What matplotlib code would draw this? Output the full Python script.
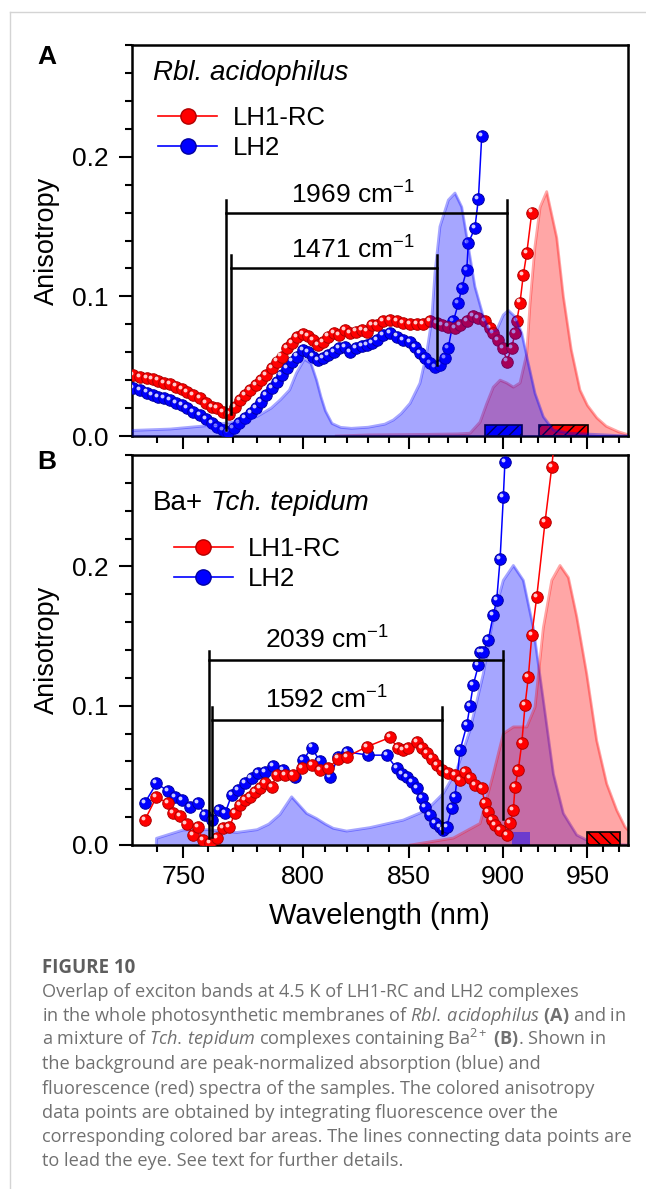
import numpy as np
import matplotlib
matplotlib.use("Agg")
import matplotlib.pyplot as plt
from matplotlib.ticker import MultipleLocator, FormatStrFormatter
from matplotlib.lines import Line2D
from matplotlib.transforms import ScaledTranslation

plt.rcParams['font.family'] = ['Liberation Sans', 'DejaVu Sans']
plt.rcParams['mathtext.fontset'] = 'custom'
plt.rcParams['mathtext.rm'] = 'Liberation Sans'
plt.rcParams['mathtext.it'] = 'Open Sans:italic'
plt.rcParams['mathtext.bf'] = 'Open Sans:bold'
plt.rcParams['mathtext.default'] = 'regular'
plt.rcParams['hatch.linewidth'] = 1.0

# ---------------- panel A : Rbl. acidophilus ----------------
a_red_wl = [731.0, 733.4, 736.0, 738.2, 740.3, 742.7, 744.8, 747.2, 749.4, 751.6,
            753.9, 756.6, 759.0, 761.3, 763.5, 766.0, 768.4, 770.8, 772.8, 774.9,
            777.0, 779.5, 781.6, 783.8, 786.2, 788.4, 790.5, 792.7, 794.9, 797.1,
            800.0, 802.3, 804.5, 806.8, 809.0, 811.3, 813.9, 816.4, 819.0, 821.3,
            824.2, 826.9, 829.3, 831.7, 834.1, 837.3, 840.5, 843.8, 847.1, 850.5,
            853.9, 857.2, 860.6, 864.1, 866.7, 870.1, 873.7, 876.4, 880.0, 883.5,
            886.3, 890.0, 892.7, 894.5, 897.3, 900.1, 902.0, 904.8, 906.7, 907.7,
            909.6, 911.5, 913.5, 916.4]
a_red = [0.0437, 0.0425, 0.0413, 0.0406, 0.0397, 0.0382, 0.0370, 0.0354, 0.0335, 0.0318,
         0.0294, 0.0270, 0.0234, 0.0210, 0.0198, 0.0174, 0.0158, 0.0210, 0.0258, 0.0294,
         0.0330, 0.0366, 0.0401, 0.0437, 0.0485, 0.0533, 0.0569, 0.0629, 0.0665, 0.0707,
         0.0731, 0.0717, 0.0688, 0.0652, 0.0676, 0.0712, 0.0736, 0.0724, 0.0760, 0.0736,
         0.0748, 0.0760, 0.0748, 0.0796, 0.0796, 0.0820, 0.0832, 0.0820, 0.0808, 0.0800,
         0.0800, 0.0800, 0.0820, 0.0808, 0.0796, 0.0784, 0.0772, 0.0796, 0.0820, 0.0856,
         0.0844, 0.0820, 0.0772, 0.0736, 0.0688, 0.0629, 0.0533, 0.0629, 0.0736, 0.0820,
         0.0956, 0.1154, 0.1310, 0.1600]

a_blue_wl = [731.0, 733.4, 736.0, 738.2, 740.3, 742.7, 744.8, 747.2, 749.4, 751.6,
             753.9, 756.6, 759.0, 761.3, 763.5, 766.0, 768.0, 770.2, 772.5, 774.9,
             777.3, 779.5, 781.6, 783.8, 786.2, 788.4, 790.5, 792.7, 794.9, 797.1,
             800.0, 802.3, 804.5, 806.8, 809.0, 811.3, 813.9, 816.4, 819.0, 821.3,
             824.2, 826.9, 829.3, 831.7, 834.1, 837.3, 840.5, 843.8, 847.1, 850.5,
             853.0, 855.5, 858.1, 860.6, 863.2, 865.8, 868.4, 870.1, 872.8, 875.5,
             877.3, 880.0, 880.8, 884.4, 886.3, 888.1]
a_blue = [0.0342, 0.0330, 0.0311, 0.0294, 0.0282, 0.0270, 0.0258, 0.0239, 0.0222, 0.0198,
          0.0174, 0.0151, 0.0120, 0.0091, 0.0067, 0.0043, 0.0031, 0.0055, 0.0091, 0.0127,
          0.0163, 0.0198, 0.0246, 0.0294, 0.0342, 0.0389, 0.0437, 0.0485, 0.0533, 0.0569,
          0.0617, 0.0604, 0.0569, 0.0545, 0.0557, 0.0581, 0.0604, 0.0629, 0.0636, 0.0604,
          0.0629, 0.0645, 0.0652, 0.0665, 0.0688, 0.0724, 0.0736, 0.0712, 0.0688, 0.0676,
          0.0640, 0.0593, 0.0557, 0.0521, 0.0497, 0.0509, 0.0557, 0.0629, 0.0820, 0.0950,
          0.1060, 0.1190, 0.1380, 0.1490, 0.1700, 0.2146]

a_abs_wl = [730.4, 745.0, 760.0, 770.0, 780.0, 786.0, 790.0, 794.0, 797.0, 800.5,
            803.5, 806.0, 808.0, 810.0, 813.0, 817.0, 822.0, 830.0, 838.0, 842.2,
            846.0, 850.5, 855.5, 858.9, 861.5, 863.2, 865.8, 870.2, 873.7, 877.3,
            880.8, 884.4, 889.0, 892.7, 896.4, 900.1, 902.9, 906.7, 910.6, 914.4,
            918.3, 923.2, 929.2, 939.3, 976.0]
a_abs = [0.004, 0.005, 0.0075, 0.010, 0.014, 0.020, 0.026, 0.033, 0.045, 0.055,
         0.052, 0.040, 0.028, 0.018, 0.009, 0.0062, 0.0055, 0.0063, 0.0085, 0.0115,
         0.016, 0.0234, 0.0378, 0.059, 0.083, 0.1166, 0.150, 0.169, 0.174, 0.164,
         0.136, 0.107, 0.0855, 0.0748, 0.076, 0.0867, 0.090, 0.0855, 0.0736, 0.052,
         0.0306, 0.0138, 0.0043, 0.002, 0.0]

a_fl_wl = [815.0, 830.0, 860.0, 875.0, 881.7, 887.2, 890.8, 894.5, 898.3, 902.0,
           905.8, 909.6, 913.5, 915.4, 918.3, 921.3, 925.2, 931.2, 935.2, 940.0,
           945.4, 950.0, 956.0, 962.0, 970.0, 976.0]
a_fl = [0.0, 0.0008, 0.0012, 0.0015, 0.002, 0.010, 0.023, 0.035, 0.040, 0.038,
        0.035, 0.038, 0.059, 0.095, 0.136, 0.164, 0.175, 0.142, 0.100, 0.062,
        0.033, 0.022, 0.013, 0.007, 0.003, 0.001]

a_bar_left = [890.0, 920.4]
a_bar_right = [910.6, 950.7]
a_bar_h = 0.008

# brackets: (left wl, right wl, top, bar level, left bottom, right bottom, label)
a_brackets = [(767.1, 902.4, 0.169, 0.160, 0.004, 0.065, '1969'),
              (769.0, 864.4, 0.1295, 0.120, 0.016, 0.051, '1471')]
a_labels_xy = [(822.8, 0.1728), (822.8, 0.133)]

# ---------------- panel B : Ba+ Tch. tepidum ----------------
b_blue_wl = [735.3, 739.7, 744.0, 746.8, 749.4, 752.6, 755.9, 758.6, 761.3, 764.3,
             766.7, 769.4, 772.1, 774.9, 777.7, 780.5, 783.3, 786.9, 791.2, 796.4,
             800.0, 803.8, 807.5, 812.1, 815.9, 819.8, 830.0, 838.9, 843.8, 846.3,
             848.8, 851.3, 853.9, 856.4, 858.1, 860.6, 863.2, 865.8, 867.5, 869.3,
             872.0, 873.7, 876.4, 880.0, 881.7, 883.5, 886.3, 887.2, 889.0, 891.7,
             894.5, 896.4, 898.3, 900.1, 901.0]
b_blue = [0.0303, 0.0442, 0.0389, 0.0346, 0.0323, 0.0275, 0.0299, 0.0215, 0.0179, 0.0251,
          0.0227, 0.0358, 0.0394, 0.0442, 0.0478, 0.0514, 0.0526, 0.0566, 0.0538, 0.0490,
          0.0610, 0.0700, 0.0600, 0.0490, 0.0633, 0.0669, 0.0645, 0.0645, 0.0550, 0.0510,
          0.0490, 0.0455, 0.0406, 0.0335, 0.0275, 0.0215, 0.0155, 0.0131, 0.0110, 0.0131,
          0.0263, 0.0346, 0.0680, 0.0860, 0.1000, 0.1150, 0.1290, 0.1386, 0.1386, 0.1470,
          0.1650, 0.1760, 0.2055, 0.2497, 0.2748]

b_red_wl = [735.3, 739.7, 744.0, 746.1, 748.7, 751.3, 753.9, 755.9, 757.7, 760.6,
            763.3, 766.0, 768.4, 770.8, 772.8, 774.9, 777.0, 779.1, 781.2, 783.3,
            786.2, 788.4, 792.0, 795.6, 799.3, 803.8, 807.5, 811.3, 815.9, 819.8,
            829.3, 840.5, 844.6, 847.1, 849.6, 853.9, 856.4, 858.9, 861.5, 864.1,
            866.7, 870.1, 873.7, 876.4, 879.0, 881.7, 884.4, 888.1, 889.9, 891.7,
            893.6, 895.4, 898.3, 902.0, 903.9, 905.8, 906.7, 908.6, 910.6, 912.5,
            914.4, 916.4, 919.3, 924.2, 928.2, 931.5]
b_red = [0.0179, 0.0346, 0.0299, 0.0227, 0.0208, 0.0151, 0.0072, 0.0131, 0.0036, 0.0012,
         0.0048, 0.0120, 0.0127, 0.0227, 0.0287, 0.0323, 0.0346, 0.0382, 0.0406, 0.0442,
         0.0418, 0.0502, 0.0502, 0.0502, 0.0550, 0.0574, 0.0538, 0.0550, 0.0621, 0.0633,
         0.0705, 0.0772, 0.0693, 0.0681, 0.0693, 0.0740, 0.0693, 0.0657, 0.0621, 0.0574,
         0.0538, 0.0514, 0.0502, 0.0466, 0.0526, 0.0478, 0.0430, 0.0406, 0.0299, 0.0239,
         0.0179, 0.0143, 0.0108, 0.0072, 0.0155, 0.0251, 0.0418, 0.0538, 0.0729, 0.1004,
         0.1206, 0.1505, 0.1780, 0.2318, 0.2712, 0.3100]

b_abs_wl = [739.6, 739.7, 750.0, 760.0, 771.5, 780.0, 785.0, 789.8, 794.9, 801.5,
            806.0, 810.0, 813.6, 819.8, 830.8, 847.1, 858.9, 867.5, 874.6, 881.7,
            889.0, 894.5, 900.1, 905.8, 911.5, 917.3, 923.2, 929.2, 935.2, 943.4,
            953.8, 976.0]
b_abs = [0.0, 0.0048, 0.0108, 0.011, 0.009, 0.011, 0.015, 0.022, 0.0346, 0.0227,
         0.019, 0.015, 0.012, 0.010, 0.0125, 0.0179, 0.025, 0.037, 0.0538, 0.0824,
         0.123, 0.1637, 0.190, 0.2007, 0.190, 0.156, 0.104, 0.051, 0.0227, 0.0072,
         0.0012, 0.0]

b_fl_wl = [850.7, 872.8, 887.2, 894.5, 900.1, 905.8, 913.5, 918.3, 923.2, 928.2,
           933.2, 938.3, 943.4, 949.6, 955.9, 962.3, 968.8, 974.2, 976.0]
b_fl = [0.0, 0.005, 0.0155, 0.051, 0.080, 0.0848, 0.0848, 0.099, 0.156, 0.190,
        0.2007, 0.192, 0.164, 0.123, 0.075, 0.044, 0.025, 0.013, 0.011]

b_bar_left = [904.8, 949.6]
b_bar_right = [915.4, 971.0]
b_bar_h = 0.0095

b_brackets = [(760.2, 900.1, 0.1393, 0.1326, 0.005, 0.019, '2039'),
              (761.5, 867.0, 0.0991, 0.0896, 0.006, 0.0084, '1592')]
b_labels_xy = [(810.6, 0.147), (810.6, 0.104)]

caption_lines = [
    "Overlap of exciton bands at 4.5 K of LH1-RC and LH2 complexes",
    r"in the whole photosynthetic membranes of $\it{Rbl.\,acidophilus}$ $\bf{(A)}$ and in",
    r"a mixture of $\it{Tch.\,tepidum}$ complexes containing Ba$^{2+}$ $\bf{(B)}$. Shown in",
    "the background are peak-normalized absorption (blue) and",
    "fluorescence (red) spectra of the samples. The colored anisotropy",
    "data points are obtained by integrating fluorescence over the",
    "corresponding colored bar areas. The lines connecting data points are",
    "to lead the eye. See text for further details.",
]

W, H = 646, 1189
fig = plt.figure(figsize=(W / 100, H / 100), dpi=100)


def px_axes(l, t, r, b):
    return fig.add_axes([l / W, 1 - b / H, (r - l) / W, (b - t) / H])


def fwd(x):
    x = np.asarray(x, dtype=float)
    with np.errstate(divide='ignore', invalid='ignore'):
        return -1e7 / x


axA = px_axes(131.7, 45, 627.7, 436)
axB = px_axes(131.7, 455, 627.7, 845)

for ax in (axA, axB):
    # wavelength labels on an energy (wavenumber) linear axis
    ax.set_xscale('function', functions=(fwd, fwd))
    ax.set_xlim(730.4, 976.0)
    ax.set_ylim(0, 0.28)
    ax.xaxis.set_major_locator(MultipleLocator(50))
    ax.xaxis.set_minor_locator(MultipleLocator(10))
    ax.yaxis.set_major_locator(MultipleLocator(0.1))
    ax.yaxis.set_minor_locator(MultipleLocator(0.02))
    ax.yaxis.set_major_formatter(FormatStrFormatter('%.1f'))
    ax.tick_params(which='both', direction='out', top=False, right=False, width=1.5)
    ax.tick_params(which='major', length=9.5, labelsize=19)
    ax.tick_params(axis='y', which='major', pad=7)
    ax.tick_params(axis='x', which='major', pad=5)
    ax.tick_params(which='minor', length=5)
    for s in ax.spines.values():
        s.set_linewidth(1.8)
    ax.set_ylabel('Anisotropy', fontsize=19.5, labelpad=9)

axA.tick_params(labelbottom=False)
axB.set_xlabel('Wavelength (nm)', fontsize=21, labelpad=9)


def balls(ax, wl, val, color, edge, z):
    ax.plot(wl, val, '-', color=color, lw=1.1, zorder=z)
    ax.plot(wl, val, 'o', ms=8.3, mfc=color, mec=edge, mew=0.7, ls='none', zorder=z)
    shift = ScaledTranslation(-1.5 / 72, 1.5 / 72, fig.dpi_scale_trans)
    ax.plot(wl, val, 'o', ms=2.8, mfc='white', mec='none', alpha=0.8, ls='none',
            zorder=z, transform=ax.transData + shift)


def brackets(ax, items, label_xy, z):
    for (l, r, top, lev, lb, rb, txt), (tx, ty) in zip(items, label_xy):
        ax.plot([l, l], [lb, top], color='black', lw=1.8, zorder=z)
        ax.plot([r, r], [rb, top], color='black', lw=1.8, zorder=z)
        ax.plot([l, r], [lev, lev], color='black', lw=1.8, zorder=z)
        ax.text(tx, ty, txt + ' cm$^{-1}$', ha='center', va='center', fontsize=19, zorder=z)


# ---- A
axA.fill_between(a_fl_wl, a_fl, color='red', alpha=0.35, lw=0, zorder=1)
axA.plot(a_fl_wl, a_fl, color='red', alpha=0.35, lw=2, zorder=1)
axA.bar(a_bar_left, a_bar_h, width=np.subtract(a_bar_right, a_bar_left), align='edge',
        color=['blue', 'red'], edgecolor='black', hatch='///', lw=1.2, zorder=2)
balls(axA, a_blue_wl, a_blue, 'blue', '#0000a0', 3)
balls(axA, a_red_wl, a_red, 'red', '#b00000', 3.1)
axA.fill_between(a_abs_wl, a_abs, color='blue', alpha=0.35, lw=0, zorder=4)
axA.plot(a_abs_wl, a_abs, color='blue', alpha=0.35, lw=2, zorder=4)
brackets(axA, a_brackets, a_labels_xy, 5)
axA.text(0.043, 0.928, 'Rbl. acidophilus', style='italic', fontsize=20,
         transform=axA.transAxes, va='center')

# ---- B
axB.fill_between(b_abs_wl, b_abs, color='blue', alpha=0.35, lw=0, zorder=1)
axB.plot(b_abs_wl, b_abs, color='blue', alpha=0.35, lw=2, zorder=1)
axB.fill_between(b_fl_wl, b_fl, color='red', alpha=0.35, lw=0, zorder=1)
axB.plot(b_fl_wl, b_fl, color='red', alpha=0.35, lw=2, zorder=1)
axB.bar(b_bar_left[0], b_bar_h, width=b_bar_right[0] - b_bar_left[0], align='edge',
        color='blue', alpha=0.45, lw=0, zorder=2)
axB.bar(b_bar_left[1], b_bar_h, width=b_bar_right[1] - b_bar_left[1], align='edge',
        color='red', edgecolor='black', hatch='\\\\\\', lw=1.2, zorder=2)
balls(axB, b_blue_wl, b_blue, 'blue', '#0000a0', 3)
balls(axB, b_red_wl, b_red, 'red', '#b00000', 3.1)
brackets(axB, b_brackets, b_labels_xy, 5)
t1 = axB.text(0.043, 0.877, 'Ba+', fontsize=20, transform=axB.transAxes, va='center')
axB.annotate('Tch. tepidum', xy=(1, 0), xycoords=t1, xytext=(5.5, 0),
             textcoords='offset points', va='bottom', style='italic', fontsize=20)

# legends
def leg_handles():
    return [Line2D([0], [0], color='red', lw=1.2, marker='o', ms=11, mfc='red', mec='#b00000'),
            Line2D([0], [0], color='blue', lw=1.2, marker='o', ms=11, mfc='blue', mec='#0000a0')]


legkw = dict(frameon=False, fontsize=18.5, handlelength=2.3, handletextpad=0.6,
             labelspacing=0.25, borderpad=0, borderaxespad=0, loc='upper left')
axA.legend(leg_handles(), ['LH1-RC', 'LH2'], bbox_to_anchor=(0.053, 0.845), **legkw)
axB.legend(leg_handles(), ['LH1-RC', 'LH2'], bbox_to_anchor=(0.085, 0.79), **legkw)

# panel letters
fig.text(47 / W, 1 - 57 / H, 'A', weight='bold', fontsize=19, ha='center', va='center')
fig.text(47 / W, 1 - 462 / H, 'B', weight='bold', fontsize=19, ha='center', va='center')

# page frame lines
fig.add_artist(Line2D([9.5 / W, 9.5 / W], [0, 1 - 11.5 / H], color='#d4d4d4', lw=1))
fig.add_artist(Line2D([9.5 / W, 1], [1 - 11.5 / H, 1 - 11.5 / H], color='#d4d4d4', lw=1))

# caption
cap_font = ['Open Sans', 'DejaVu Sans']
fig.text(42 / W, 1 - 973 / H, 'FIGURE 10', family=cap_font, weight='bold',
         fontsize=13.5, color='#5e5e5e', va='baseline')
for i, line in enumerate(caption_lines):
    y = 990.7 + 24.2 * i + 6
    fig.text(42 / W, 1 - y / H, line, family=cap_font, fontsize=13.1,
             color='#707070', va='baseline')

fig.savefig('out.png', dpi=100)
